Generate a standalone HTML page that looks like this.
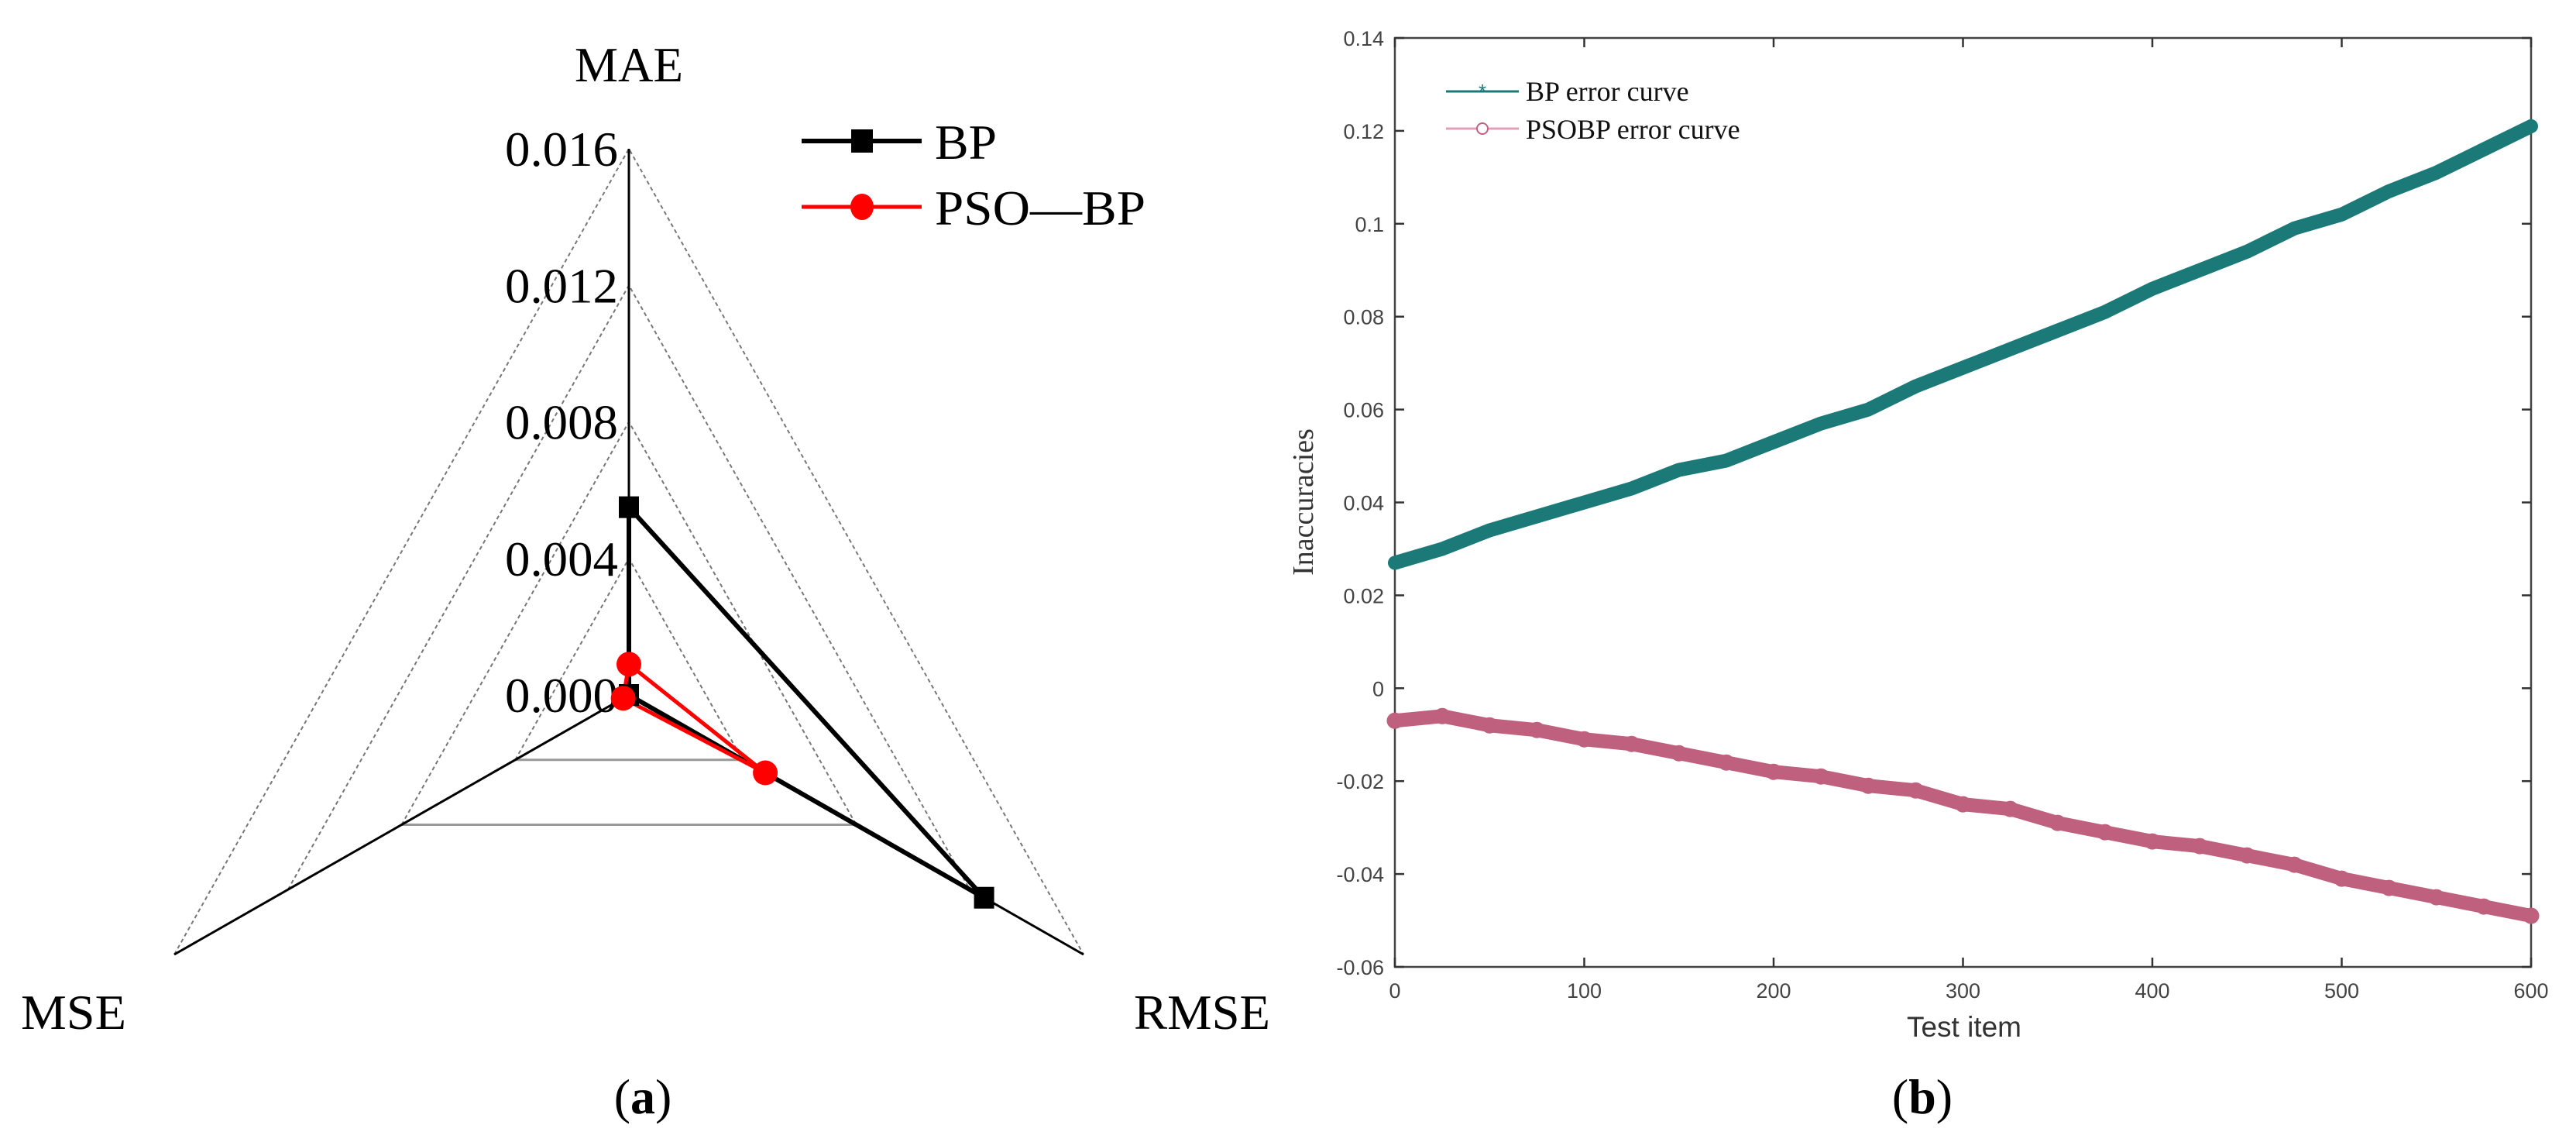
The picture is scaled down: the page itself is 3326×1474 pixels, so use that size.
<!DOCTYPE html>
<html><head><meta charset="utf-8">
<style>
html,body{margin:0;padding:0;background:#fff;}
svg{display:block;}
</style></head>
<body>
<svg id="fig" width="3326" height="1474" viewBox="0 0 3326 1474" xmlns="http://www.w3.org/2000/svg">
  <g id="radar"></g>
  <g id="line"></g>
</svg>
<script>
// ---------- Radar data ----------
const radarAxes = ["MAE", "RMSE", "MSE"];
const radarTicks = [0, 0.004, 0.008, 0.012, 0.016];
const radarTickLabels = ["0.000", "0.004", "0.008", "0.012", "0.016"];
const bpValues = [0.0055, 0.0125, 0.0];
const psoValues = [0.0009, 0.0048, 0.0002];
const radarSeriesNames = ["BP", "PSO\u2014BP"];

// ---------- Line chart data ----------
const testItems = [0,25,50,75,100,125,150,175,200,225,250,275,300,325,350,375,400,425,450,475,500,525,550,575,600];
const bpError = [0.027,0.030,0.034,0.037,0.040,0.043,0.047,0.049,0.053,0.057,0.060,0.065,0.069,0.073,0.077,0.081,0.086,0.090,0.094,0.099,0.102,0.107,0.111,0.116,0.121];
const psoError = [-0.007,-0.006,-0.008,-0.009,-0.011,-0.012,-0.014,-0.016,-0.018,-0.019,-0.021,-0.022,-0.025,-0.026,-0.029,-0.031,-0.033,-0.034,-0.036,-0.038,-0.041,-0.043,-0.045,-0.047,-0.049];
const yTicks = [-0.06,-0.04,-0.02,0,0.02,0.04,0.06,0.08,0.1,0.12,0.14];
const yTickLabels = ["-0.06","-0.04","-0.02","0","0.02","0.04","0.06","0.08","0.1","0.12","0.14"];
const xTicks = [0,100,200,300,400,500,600];
const xTickLabels = ["0","100","200","300","400","500","600"];
const lineSeriesNames = ["BP error curve","PSOBP error curve"];

const NS = "http://www.w3.org/2000/svg";
function mk(parent, tag, attrs, text){
  const e = document.createElementNS(NS, tag);
  for (const k in attrs) e.setAttribute(k, attrs[k]);
  if (text !== undefined) e.textContent = text;
  parent.appendChild(e);
  return e;
}

// ================= RADAR =================
(function(){
  const g = document.getElementById('radar');
  const cx = 812, cy = 897, vmax = 0.016;
  const dirs = [[0,-705],[587,335],[-587,335]]; // MAE, RMSE, MSE full-scale vectors
  function pt(i, v){ return [cx + dirs[i][0]*v/vmax, cy + dirs[i][1]*v/vmax]; }

  // grid: dotted sides, gray bases
  for (let t = 1; t < radarTicks.length; t++){
    const v = radarTicks[t];
    const a = pt(0,v), b = pt(1,v), c = pt(2,v);
    let e = mk(g,'polyline',{points:`${c[0]},${c[1]} ${a[0]},${a[1]} ${b[0]},${b[1]}`,fill:'none',stroke:'#777','stroke-width':2,'stroke-dasharray':'5,4'});
    
    
    if (t <= 2){
      e = mk(g,'line',{x1:c[0],y1:c[1],x2:b[0],y2:b[1],stroke:'#999','stroke-width':3});
      
      
    }
  }
  // axes
  for (let i = 0; i < 3; i++){
    const p = pt(i, vmax);
    const e = mk(g,'line',{x1:cx,y1:cy,x2:p[0],y2:p[1],stroke:'#000','stroke-width':3});
    
    
  }
  // tick labels
  for (let t = 0; t < radarTicks.length; t++){
    const p = pt(0, radarTicks[t]);
    const e = mk(g,'text',{x:798,y:p[1]+22,'text-anchor':'end','font-family':'Liberation Serif, serif','font-size':64,fill:'#000',textLength:146,lengthAdjust:'spacingAndGlyphs'}, radarTickLabels[t]);
    
    
  }
  // axis labels
  let e = mk(g,'text',{x:812,y:105,'text-anchor':'middle','font-family':'Liberation Serif, serif','font-size':64,fill:'#000',textLength:140,lengthAdjust:'spacingAndGlyphs'}, radarAxes[0]);
   
  e = mk(g,'text',{x:1464,y:1328,'font-family':'Liberation Serif, serif','font-size':64,fill:'#000',textLength:176,lengthAdjust:'spacingAndGlyphs'}, radarAxes[1]);
   
  e = mk(g,'text',{x:27,y:1328,'font-family':'Liberation Serif, serif','font-size':64,fill:'#000',textLength:136,lengthAdjust:'spacingAndGlyphs'}, radarAxes[2]);
   

  // series
  function series(vals, color, w, name){
    const pts = vals.map((v,i)=>pt(i,v));
    const s = pts.concat([pts[0]]).map(p=>p.join(',')).join(' ');
    const el = mk(g,'polyline',{points:s,fill:'none',stroke:color,'stroke-width':w,'stroke-linejoin':'miter'});
    
    
    return pts;
  }
  const bp = series(bpValues,'#000',6,'bp');
  const ps = series(psoValues,'#f00',5,'pso-bp');
  bp.forEach(p=>{
    const m = mk(g,'rect',{x:p[0]-13,y:p[1]-14,width:26,height:28,fill:'#000'});
    
    
  });
  ps.forEach(p=>{
    const m = mk(g,'ellipse',{cx:p[0],cy:p[1],rx:16,ry:16,fill:'#f00'});
    
    
  });

  // legend
  e = mk(g,'line',{x1:1035,y1:182,x2:1190,y2:182,stroke:'#000','stroke-width':6});
   
  e = mk(g,'rect',{x:1099,y:167,width:28,height:30,fill:'#000'});
   
  e = mk(g,'text',{x:1207,y:205,'font-family':'Liberation Serif, serif','font-size':64,fill:'#000',textLength:80,lengthAdjust:'spacingAndGlyphs'}, radarSeriesNames[0]);
   
  e = mk(g,'line',{x1:1035,y1:267,x2:1190,y2:267,stroke:'#f00','stroke-width':5});
   
  e = mk(g,'ellipse',{cx:1113,cy:267,rx:15,ry:17,fill:'#f00'});
   
  e = mk(g,'text',{x:1207,y:290,'font-family':'Liberation Serif, serif','font-size':64,fill:'#000',textLength:272,lengthAdjust:'spacingAndGlyphs'}, radarSeriesNames[1]);
   

  e = mk(g,'text',{x:830,y:1437,'text-anchor':'middle','font-family':'Liberation Serif, serif','font-size':64,fill:'#000'});
   
  e.innerHTML = '(<tspan font-weight="bold">a</tspan>)';
})();

// ================= LINE CHART =================
(function(){
  const g = document.getElementById('line');
  const L = 1801, R = 3268, T = 49, B = 1248;
  const xmin = 0, xmax = 600, ymin = -0.06, ymax = 0.14;
  const X = v => L + (v - xmin)/(xmax - xmin)*(R - L);
  const Y = v => B - (v - ymin)/(ymax - ymin)*(B - T);

  let e = mk(g,'rect',{x:L,y:T,width:R-L,height:B-T,fill:'none',stroke:'#444','stroke-width':2.5});
   

  yTicks.forEach((v,i)=>{
    let t = mk(g,'line',{x1:L,y1:Y(v),x2:L+12,y2:Y(v),stroke:'#333','stroke-width':2.5});
     
    t = mk(g,'line',{x1:R-12,y1:Y(v),x2:R,y2:Y(v),stroke:'#333','stroke-width':2.5});
     
    t = mk(g,'text',{x:L-14,y:Y(v)+10,'text-anchor':'end','font-family':'Liberation Sans, sans-serif','font-size':27,fill:'#444'}, yTickLabels[i]);
     
  });
  xTicks.forEach((v,i)=>{
    let t = mk(g,'line',{x1:X(v),y1:B,x2:X(v),y2:B-12,stroke:'#333','stroke-width':2.5});
     
    t = mk(g,'line',{x1:X(v),y1:T,x2:X(v),y2:T+12,stroke:'#333','stroke-width':2.5});
     
    t = mk(g,'text',{x:X(v),y:B+40,'text-anchor':'middle','font-family':'Liberation Sans, sans-serif','font-size':27,fill:'#444'}, xTickLabels[i]);
     
  });

  function draw(vals, color, name, circle){
    const pts = testItems.map((x,i)=>X(x)+','+Y(vals[i])).join(' ');
    const pl = mk(g,'polyline',{points:pts,fill:'none',stroke:color,'stroke-width':18,'stroke-linejoin':'round','stroke-linecap':'round'});
    
    
    testItems.forEach((x,i)=>{
      const m = mk(g,'circle',{cx:X(x),cy:Y(vals[i]),r:circle?9:7,fill:circle?'none':color,stroke:color,'stroke-width':3});
      
      
    });
  }
  draw(bpError,'#1b7a78','bp-error',false);
  draw(psoError,'#c0607f','psobp-error',true);

  // legend
  e = mk(g,'line',{x1:1867,y1:118,x2:1961,y2:118,stroke:'#1b7a78','stroke-width':3});
   
  e = mk(g,'text',{x:1914,y:127,'text-anchor':'middle','font-family':'Liberation Sans, sans-serif','font-size':26,fill:'#1b7a78'}, '*');
   
  e = mk(g,'text',{x:1970,y:130,'font-family':'Liberation Serif, serif','font-size':36,fill:'#111'}, lineSeriesNames[0]);
   
  e = mk(g,'line',{x1:1867,y1:166,x2:1961,y2:166,stroke:'#e0a0b8','stroke-width':3});
   
  e = mk(g,'circle',{cx:1914,cy:166,r:7,fill:'#fff',stroke:'#c0607f','stroke-width':2});
   
  e = mk(g,'text',{x:1970,y:179,'font-family':'Liberation Serif, serif','font-size':36,fill:'#111'}, lineSeriesNames[1]);
   

  e = mk(g,'text',{x:0,y:0,'text-anchor':'middle','font-family':'Liberation Serif, serif','font-size':38,fill:'#333',transform:'translate(1695,648) rotate(-90)'}, 'Inaccuracies');
   
  e = mk(g,'text',{x:2536,y:1338,'text-anchor':'middle','font-family':'Liberation Sans, sans-serif','font-size':37,fill:'#333'}, 'Test item');
   

  e = mk(g,'text',{x:2482,y:1437,'text-anchor':'middle','font-family':'Liberation Serif, serif','font-size':64,fill:'#000'});
   
  e.innerHTML = '(<tspan font-weight="bold">b</tspan>)';
})();
</script>
</body></html>
